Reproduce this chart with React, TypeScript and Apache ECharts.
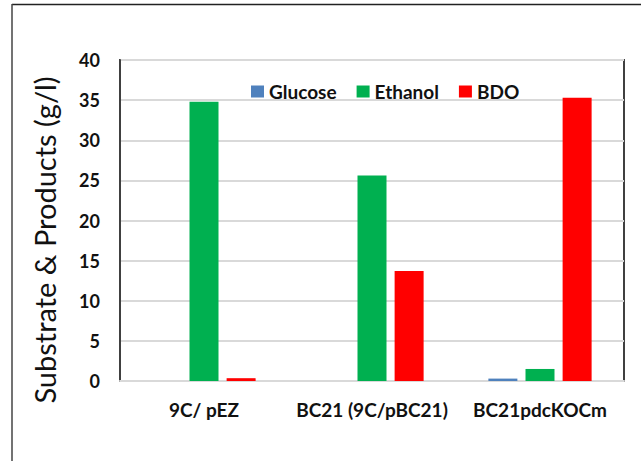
import React, { useEffect, useRef } from "react";
import * as echarts from "echarts";

const categories = ["9C/ pEZ", "BC21 (9C/pBC21)", "BC21pdcKOCm"];
const glucose = [0, 0, 0.3];
const ethanol = [34.8, 25.6, 1.5];
const bdo = [0.35, 13.7, 35.3];
const yTicks = [0, 5, 10, 15, 20, 25, 30, 35, 40];
const yTitle = "Substrate & Products (g/l)";

const FONT = "Lato, 'Open Sans', sans-serif";

export default function App() {
  const ref = useRef<HTMLDivElement>(null);
  useEffect(() => {
    const chart = echarts.init(ref.current!, null, { renderer: "svg" });
    chart.setOption({
      animation: false,
      backgroundColor: "#fff",
      textStyle: { fontFamily: FONT },
      graphic: [
        {
          type: "line",
          shape: { x1: 12, y1: 4.5, x2: 641, y2: 4.5 },
          style: { stroke: "#222", lineWidth: 1.5 },
          silent: true,
          z: 100,
        },
        {
          type: "line",
          shape: { x1: 12, y1: 4, x2: 12, y2: 461 },
          style: { stroke: "#444", lineWidth: 1.5 },
          silent: true,
          z: 100,
        },
        {
          type: "text",
          x: 44,
          y: 240,
          rotation: Math.PI / 2,
          style: {
            text: yTitle,
            fontFamily: FONT,
            fontSize: 29,
            fill: "#111",
            align: "center",
            verticalAlign: "middle",
          },
          silent: true,
        },
      ],
      legend: {
        top: 77,
        left: 246,
        itemWidth: 13,
        itemHeight: 12,
        itemGap: 20,
        icon: "rect",
        textStyle: { fontFamily: FONT, fontWeight: "bold", fontSize: 19, color: "#111" },
        data: ["Glucose", "Ethanol", "BDO"],
      },
      grid: {
        left: 120,
        top: 60,
        right: 17,
        bottom: 80,
        show: true,
        borderColor: "#404040",
        borderWidth: 2,
        backgroundColor: "transparent",
      },
      xAxis: {
        type: "category",
        data: categories,
        axisLine: { show: true, lineStyle: { color: "#d9d9d9", width: 2 } },
        axisTick: { show: false },
        axisLabel: {
          interval: 0,
          hideOverlap: false,
          margin: 19,
          fontFamily: FONT,
          fontWeight: "bold",
          fontSize: 19,
          color: "#111",
        },
      },
      yAxis: {
        type: "value",
        min: yTicks[0],
        max: yTicks[yTicks.length - 1],
        interval: 5,
        axisLine: { show: true, lineStyle: { color: "#404040", width: 2 } },
        axisTick: { show: false },
        splitLine: { lineStyle: { color: "#d9d9d9", width: 2 } },
        axisLabel: {
          margin: 20,
          fontFamily: FONT,
          fontWeight: "bold",
          fontSize: 18,
          color: "#111",
        },
      },
      series: [
        { name: "Glucose", type: "bar", data: glucose, barWidth: 29, barGap: "28%", itemStyle: { color: "#4f81bd" } },
        { name: "Ethanol", type: "bar", data: ethanol, barWidth: 29, barGap: "28%", itemStyle: { color: "#00b050" } },
        { name: "BDO", type: "bar", data: bdo, barWidth: 29, barGap: "28%", itemStyle: { color: "#ff0000" } },
      ],
    });
    return () => chart.dispose();
  }, []);
  return (
    <div
      ref={ref}
      style={{ position: "absolute", left: 0, top: 0, width: 641, height: 461 }}
    />
  );
}
